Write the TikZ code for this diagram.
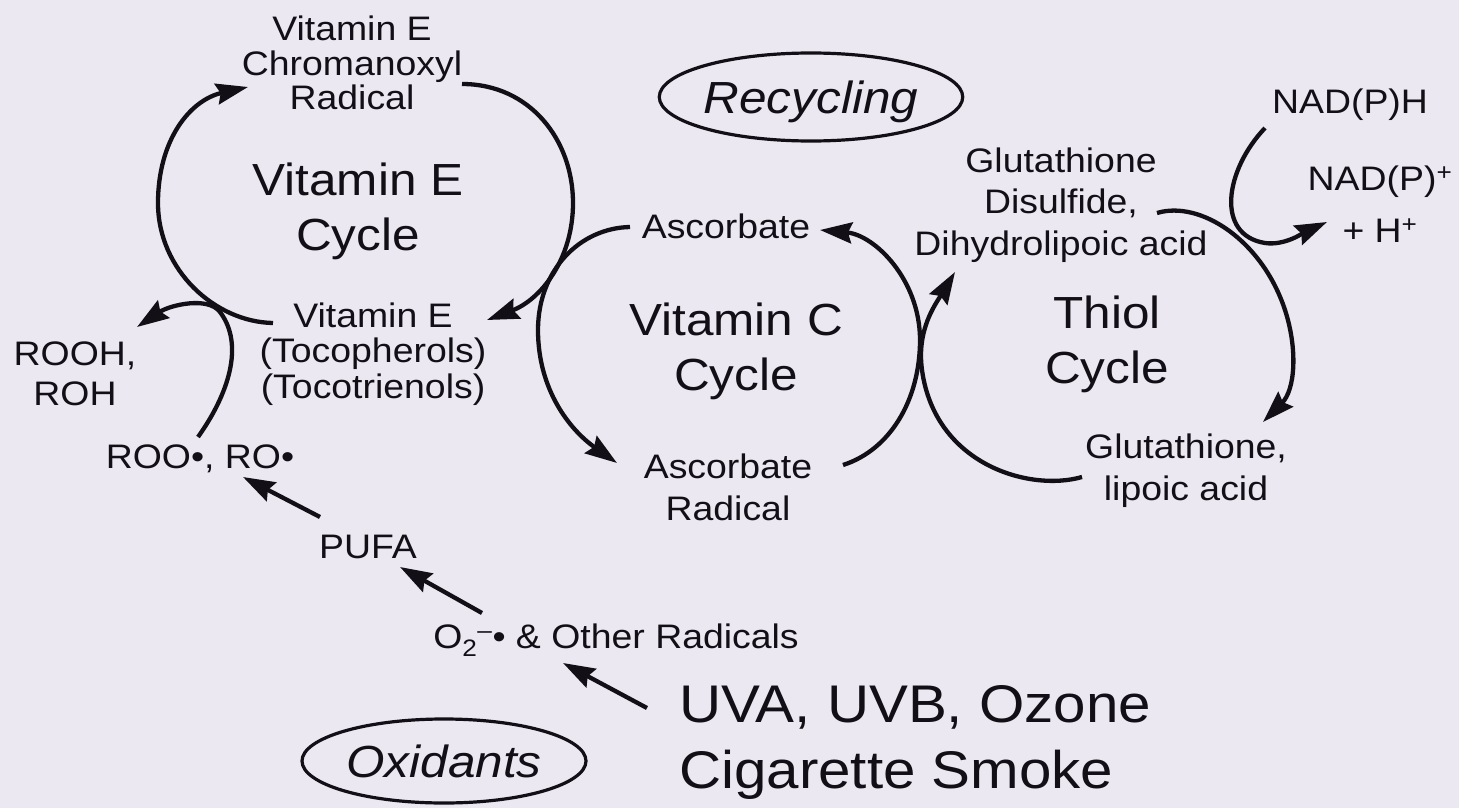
\documentclass[tikz,border=0pt]{standalone}
\usepackage{fontspec}
\setmainfont{Liberation Sans}[FakeStretch=1.1]
\usetikzlibrary{arrows.meta,shapes.geometric}
\definecolor{paper}{RGB}{236,232,242}
\definecolor{ink}{RGB}{18,16,22}
\begin{document}
\begin{tikzpicture}[x=1pt,y=-1pt,
  lbl/.style={inner sep=0pt, align=center, text=ink, anchor=base},
  small/.style={font=\fontsize{34}{#1}\selectfont},
  big/.style={inner sep=0pt, align=center, text=ink, anchor=base, font=\fontsize{45}{55}\selectfont},
  oval/.style={ellipse, draw=ink, line width=3.2pt, inner sep=0pt, minimum width=284pt, minimum height=#1,
    text height=36pt, text depth=4pt, text=ink, font=\fontsize{45}{50}\itshape},
  arr/.style={draw=ink, line width=4.3pt, -{Stealth[length=32pt,width=21pt,inset=4pt]}}]
\useasboundingbox (0,0) rectangle (1459,808);
\fill[paper] (0,0) rectangle (1459,808);

% nodes (anchor = baseline of the last line)
\node[lbl, small=35] (chrom) at (352,110) {Vitamin E\\Chromanoxyl\\Radical};
\node[big] (ecyc) at (358,250) {Vitamin E\\Cycle};
\node[lbl, small=35.5] (vite) at (373,398) {Vitamin E\\(Tocopherols)\\(Tocotrienols)};
\node[lbl, small=40] (rooh) at (75,405) {ROOH,\\ROH};
\node[lbl, small=40] (roo) at (200,468) {ROO•, RO•};
\node[lbl, small=40] (pufa) at (368,558) {PUFA};
\node[lbl, small=40] (o2) at (616,648) {O\textsubscript{2}\textsuperscript{–}• \& Other Radicals};
\node[lbl, small=40] (asc) at (726,238) {Ascorbate};
\node[big] (ccyc) at (736,390) {Vitamin C\\Cycle};
\node[lbl, small=42] (ascr) at (728,520) {Ascorbate\\Radical};
\node[lbl, small=41.5] (gssg) at (1061,255) {Glutathione\\Disulfide,\\Dihydrolipoic acid};
\node[big] (tcyc) at (1107,383) {Thiol\\Cycle};
\node[lbl, small=42] (gsh) at (1186,500) {Glutathione,\\lipoic acid};
\node[lbl, small=40] (nadph) at (1350,113) {NAD(P)H};
\node[lbl, small=52] (nadp) at (1380,242) {NAD(P)\textsuperscript{+}\\+ H\textsuperscript{+}};
\node[oval=88pt] (recyc) at (811,97) {Recycling};
\node[oval=84pt] (oxid) at (444,761) {Oxidants};
\node[anchor=base west, align=left, inner sep=0pt, text=ink, font=\fontsize{53}{66}\selectfont] (uva) at (679,788) {UVA, UVB, Ozone\\Cigarette Smoke};

% connector end points
\coordinate (eL0) at (273,323); \coordinate (eL2) at (248,87);
\coordinate (eR0) at (462,84);  \coordinate (eR2) at (487,320);
\coordinate (cL0) at (630,227); \coordinate (cL2) at (617,463);
\coordinate (cR0) at (843,465); \coordinate (cR2) at (820,230);
\coordinate (tL0) at (1082,477); \coordinate (tL2) at (955,272);
\coordinate (tR0) at (1157,213); \coordinate (tR2) at (1263,422);
\coordinate (n0) at (1265,128); \coordinate (n2) at (1327,222);
\coordinate (r0) at (198,437); \coordinate (r2) at (137,327);
\coordinate (p0) at (320,517); \coordinate (p2) at (243,477);
\coordinate (o0) at (482,613); \coordinate (o2e) at (400,567);
\coordinate (u0) at (647,708); \coordinate (u2) at (563,663);

% Vitamin E cycle
\draw[arr] (eL0) .. controls (215,322) and (158,270) .. (158,203) .. controls (158,140) and (190,100) .. (eL2);
\draw[arr] (eR0) .. controls (530,84) and (573,140) .. (573,203) .. controls (573,260) and (540,300) .. (eR2);
% Vitamin C cycle
\draw[arr] (cL0) .. controls (580,228) and (538,270) .. (538,330) .. controls (538,390) and (570,430) .. (cL2);
\draw[arr] (cR0) .. controls (890,450) and (920,400) .. (920,340) .. controls (920,280) and (875,235) .. (cR2);
% Thiol cycle
\draw[arr] (tL0) .. controls (1030,492) and (935,465) .. (922,370) .. controls (916.5,330) and (935,305) .. (tL2);
\draw[arr] (tR0) .. controls (1200,200) and (1262,240) .. (1285,310) .. controls (1298,350) and (1295,390) .. (tR2);
% NAD(P)H
\draw[arr] (n0) .. controls (1225,170) and (1215,235) .. (1265,243) .. controls (1285,246) and (1305,232) .. (n2);
% ROO -> ROOH
\draw[arr] (r0) .. controls (228,395) and (245,345) .. (220,312) .. controls (208,296) and (170,305) .. (r2);
% straight arrows
\draw[arr] (p0) -- (p2);
\draw[arr] (o0) -- (o2e);
\draw[arr] (u0) -- (u2);
\end{tikzpicture}
\end{document}
